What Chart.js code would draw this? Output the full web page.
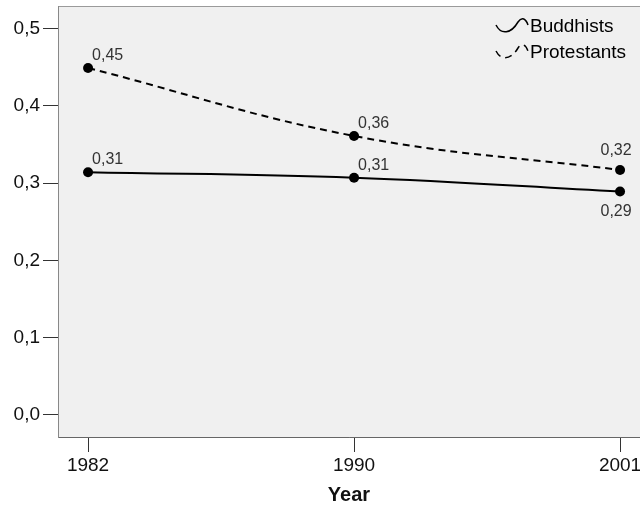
<!DOCTYPE html>
<html>
<head>
<meta charset="utf-8">
<script src="https://cdn.jsdelivr.net/npm/chart.js@4.4.0/dist/chart.umd.min.js"></script>
<style>
  html, body { margin: 0; padding: 0; background: #fff; overflow: hidden; }
  #wrap { width: 640px; height: 506px; }
</style>
</head>
<body>
<div id="wrap"><canvas id="chart" width="640" height="506"></canvas></div>
<script>
// Data
const years = ['1982', '1990', '2001'];
const buddhists = [0.314, 0.307, 0.289];
const protestants = [0.449, 0.361, 0.317];
const yTicks = [0.0, 0.1, 0.2, 0.3, 0.4, 0.5];

const FONT = '"Liberation Sans", Arial, sans-serif';
const comma = (v, d) => v.toFixed(d).replace('.', ',');

// Grey plot background with a thin frame
const plotFrame = {
    id: 'plotFrame',
    beforeDraw(chart) {
        const { ctx, chartArea: a } = chart;
        ctx.save();
        ctx.fillStyle = '#f0f0f0';
        ctx.fillRect(a.left, a.top, a.right - a.left, a.bottom - a.top);
        ctx.strokeStyle = '#9a9a9a';
        ctx.lineWidth = 1;
        ctx.strokeRect(a.left + 0.5, a.top + 0.5, a.right - a.left, a.bottom - a.top);
        ctx.restore();
    }
};

// Value labels next to each point
const valueLabels = {
    id: 'valueLabels',
    afterDatasetsDraw(chart) {
        const { ctx } = chart;
        ctx.save();
        ctx.font = '16px ' + FONT;
        ctx.fillStyle = '#333';
        ctx.textBaseline = 'alphabetic';
        chart.data.datasets.forEach((ds, di) => {
            const meta = chart.getDatasetMeta(di);
            meta.data.forEach((pt, i) => {
                const text = comma(ds.data[i].y, 2);
                const last = i === ds.data.length - 1;
                if (!last) {
                    ctx.textAlign = 'left';
                    ctx.fillText(text, pt.x + 4, pt.y - 8);
                } else {
                    ctx.textAlign = 'center';
                    const below = ds.label === 'Buddhists';
                    ctx.fillText(text, pt.x - 4, below ? pt.y + 24 : pt.y - 15);
                }
            });
        });
        ctx.restore();
    }
};

// Legend inside the plot, top right, with little curved line samples
const curveLegend = {
    id: 'curveLegend',
    afterDraw(chart) {
        const { ctx } = chart;
        const x0 = 496, textX = 530;
        ctx.save();
        chart.data.datasets.forEach((ds, di) => {
            const dy = di * 26;
            ctx.beginPath();
            ctx.moveTo(x0, 25 + dy);
            ctx.bezierCurveTo(x0 + 5, 35 + dy, x0 + 15, 34 + dy, x0 + 22, 22 + dy);
            ctx.bezierCurveTo(x0 + 26, 16 + dy, x0 + 30, 19 + dy, x0 + 32, 25 + dy);
            ctx.strokeStyle = '#000';
            ctx.lineWidth = 1.5;
            ctx.setLineDash(ds.borderDash || []);
            ctx.stroke();
            ctx.setLineDash([]);
            ctx.fillStyle = '#000';
            ctx.font = '19px ' + FONT;
            ctx.textAlign = 'left';
            ctx.textBaseline = 'alphabetic';
            ctx.fillText(ds.label, textX, 32 + dy);
        });
        ctx.restore();
    }
};

const toPoints = arr => arr.map((v, i) => ({ x: i, y: v }));

new Chart(document.getElementById('chart'), {
    type: 'line',
    data: {
        datasets: [{
            label: 'Buddhists',
            data: toPoints(buddhists),
            borderColor: '#000',
            borderWidth: 2,
            pointRadius: 5,
            pointBackgroundColor: '#000',
            pointBorderWidth: 0,
            tension: 0.4,
            fill: false
        }, {
            label: 'Protestants',
            data: toPoints(protestants),
            borderColor: '#000',
            borderWidth: 2,
            borderDash: [7, 5],
            pointRadius: 5,
            pointBackgroundColor: '#000',
            pointBorderWidth: 0,
            tension: 0.4,
            fill: false
        }]
    },
    options: {
        responsive: false,
        animation: false,
        layout: { autoPadding: false, padding: { top: 6, left: 0, right: 0, bottom: 0 } },
        plugins: {
            legend: { display: false },
            tooltip: { enabled: false }
        },
        scales: {
            x: {
                type: 'linear',
                min: -0.113,
                max: 2.075,
                afterBuildTicks: s => { s.ticks = years.map((_, i) => ({ value: i })); },
                afterFit: s => { s.height = 69; s.paddingLeft = 0; s.paddingRight = 0; },
                ticks: {
                    callback: v => years[v],
                    font: { family: FONT, size: 19 },
                    color: '#111',
                    padding: 2,
                    maxRotation: 0,
                    autoSkip: false
                },
                grid: { drawOnChartArea: false, drawTicks: true, tickLength: 15, color: '#333' },
                border: { display: true, color: '#666' },
                title: {
                    display: true,
                    text: 'Year',
                    font: { family: FONT, size: 20, weight: 'bold', lineHeight: 1.1 },
                    color: '#111',
                    padding: { top: 0, bottom: 0 }
                }
            },
            y: {
                min: -0.0285,
                max: 0.5291,
                afterBuildTicks: s => { s.ticks = yTicks.map(v => ({ value: v })); },
                afterFit: s => { s.width = 58; s.paddingTop = 0; s.paddingBottom = 0; },
                ticks: {
                    callback: v => comma(v, 1),
                    font: { family: FONT, size: 19 },
                    color: '#111',
                    padding: 3
                },
                grid: { drawOnChartArea: false, drawTicks: true, tickLength: 15, color: '#333' },
                border: { display: true, color: '#888' }
            }
        }
    },
    plugins: [plotFrame, valueLabels, curveLegend]
});
</script>
</body>
</html>
